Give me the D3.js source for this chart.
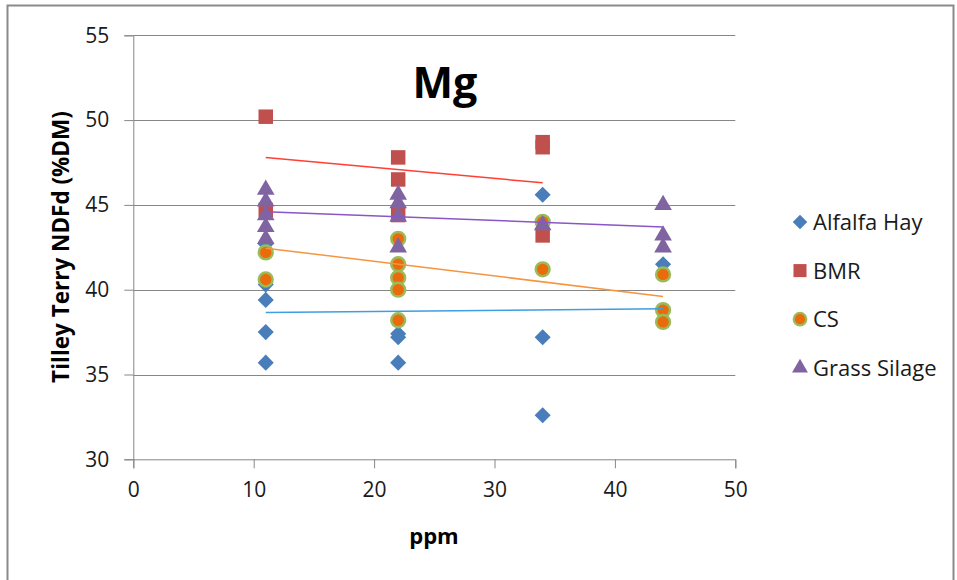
<!DOCTYPE html>
<html><head><meta charset="utf-8">
<script src="https://cdn.jsdelivr.net/npm/d3@7"></script>
<style>html,body{margin:0;padding:0;background:#fff;}svg{display:block;}</style>
</head><body>
<svg id="c" width="957" height="580"></svg>
<script>
// ---- data ----
const seriesNames = ["Alfalfa Hay", "BMR", "CS", "Grass Silage"];
const alfalfaX = [11, 11, 11, 11, 11, 22, 22, 22, 34, 34, 34, 44];
const alfalfaY = [42.7, 40.3, 39.4, 37.5, 35.7, 37.4, 37.2, 35.7, 45.6, 37.2, 32.6, 41.5];
const bmrX = [11, 11, 22, 22, 22, 34, 34, 34];
const bmrY = [50.2, 44.7, 47.8, 46.5, 44.4, 48.7, 48.4, 43.2];
const csX = [11, 11, 22, 22, 22, 22, 22, 34, 34, 44, 44, 44];
const csY = [42.2, 40.6, 43.0, 41.5, 40.7, 40.0, 38.2, 44.0, 41.2, 40.9, 38.8, 38.1];
const grassX = [11, 11, 11, 11, 11, 22, 22, 22, 22, 34, 44, 44, 44];
const grassY = [45.9, 45.2, 44.4, 43.7, 43.0, 45.6, 45.1, 44.3, 42.5, 43.8, 45.0, 43.2, 42.5];
// linear trend lines (start value, end value)
const alfalfaTrend = [38.65, 38.88];
const bmrTrend = [47.8, 46.3];
const csTrend = [42.45, 39.6];
const grassTrend = [44.6, 43.7];
const xTicks = [0, 10, 20, 30, 40, 50];
const yTicks = [30, 35, 40, 45, 50, 55];
const chartTitle = "Mg";
const xTitle = "ppm";
const yTitle = "Tilley Terry NDFd (%DM)";

// ---- drawing ----
const svg = d3.select("#c");
const L = 133.3, R = 735.3, T = 35.3, B = 459.3;
const x = d3.scaleLinear().domain([0, 50]).range([L, R]);
const y = d3.scaleLinear().domain([30, 55]).range([B, T]);
const gridCol = "#878787";
const txtCol = "#1a1a1a";
const font = "'Open Sans', 'Liberation Sans', sans-serif";

// outer frame
svg.append("rect").attr("x", 7.5).attr("y", 5.5).attr("width", 946).attr("height", 640)
  .attr("fill", "#fff").attr("stroke", "#8a8a8a").attr("stroke-width", 2);

// y axis
const yAxis = d3.axisLeft(y).tickValues(yTicks).tickSize(9).tickPadding(15).tickFormat(d3.format("d"));
const gy = svg.append("g").attr("transform", `translate(${L},0)`).call(yAxis);
gy.select(".domain").attr("stroke", gridCol);
gy.selectAll(".tick line").attr("stroke", gridCol);
gy.selectAll(".tick text").attr("font-family", font).attr("font-size", 21).attr("fill", txtCol);
// gridlines
svg.append("g").selectAll("line").data(yTicks.filter(d => d !== 30)).join("line")
  .attr("x1", L).attr("x2", R).attr("y1", d => Math.round(y(d)) + 0.5).attr("y2", d => Math.round(y(d)) + 0.5)
  .attr("stroke", gridCol).attr("stroke-width", 1);

// x axis
const xAxis = d3.axisBottom(x).tickValues(xTicks).tickSize(9).tickPadding(14).tickFormat(d3.format("d"));
const gx = svg.append("g").attr("transform", `translate(0,${B})`).call(xAxis);
gx.select(".domain").attr("stroke", gridCol);
gx.selectAll(".tick line").attr("stroke", gridCol);
gx.selectAll(".tick text").attr("font-family", font).attr("font-size", 21).attr("fill", txtCol);

// marker shapes
const diamond = d3.symbol().type(d3.symbolDiamond2).size(165)();
const square = d3.symbol().type(d3.symbolSquare).size(210)();
const circle = d3.symbol().type(d3.symbolCircle).size(150)();
const triangle = d3.symbol().type(d3.symbolTriangle).size(135)();

const series = [
  {name: seriesNames[0], xs: alfalfaX, ys: alfalfaY, path: diamond, fill: "#4a7ebb", stroke: "none", sw: 0, trend: alfalfaTrend, tcol: "#3d9ee0"},
  {name: seriesNames[1], xs: bmrX, ys: bmrY, path: square, fill: "#c0504d", stroke: "none", sw: 0, trend: bmrTrend, tcol: "#ff3f33"},
  {name: seriesNames[2], xs: csX, ys: csY, path: circle, fill: "#e96b0c", stroke: "#9bbb59", sw: 2.5, trend: csTrend, tcol: "#f7943e"},
  {name: seriesNames[3], xs: grassX, ys: grassY, path: triangle, fill: "#8064a2", stroke: "none", sw: 0, trend: grassTrend, tcol: "#8a55c4"}
];

const ptsG = svg.append("g");
series.forEach(s => {
  const pts = s.xs.map((xv, i) => [xv, s.ys[i]]);
  ptsG.append("g").selectAll("path").data(pts).join("path")
    .attr("d", s.path)
    .attr("transform", d => `translate(${x(d[0])},${y(d[1])})`)
    .attr("fill", s.fill).attr("stroke", s.stroke).attr("stroke-width", s.sw);
});

// trend lines
const lineG = svg.append("g");
series.forEach(s => {
  const xmin = d3.min(s.xs), xmax = d3.max(s.xs);
  lineG.append("line")
    .attr("x1", x(xmin)).attr("y1", y(s.trend[0]))
    .attr("x2", x(xmax)).attr("y2", y(s.trend[1]))
    .attr("stroke", s.tcol).attr("stroke-width", 1.5);
});

// title
svg.append("text").attr("x", 445).attr("y", 98).attr("text-anchor", "middle")
  .attr("font-family", font).attr("font-weight", "bold").attr("font-size", 43).attr("fill", "#000")
  .text(chartTitle);

// axis titles
svg.append("text").attr("x", 434).attr("y", 544).attr("text-anchor", "middle")
  .attr("font-family", font).attr("font-weight", "bold").attr("font-size", 22).attr("fill", "#000")
  .text(xTitle);
svg.append("text").attr("transform", "translate(69,247) rotate(-90)").attr("text-anchor", "middle")
  .attr("font-family", font).attr("font-weight", "bold").attr("font-size", 22.5).attr("fill", "#000")
  .text(yTitle);

// legend
const leg = svg.append("g");
series.forEach((s, i) => {
  const ly = 222 + i * 48.6;
  leg.append("path").attr("d", s.path)
    .attr("transform", `translate(800,${ly}) scale(0.9)`)
    .attr("fill", s.fill).attr("stroke", s.stroke).attr("stroke-width", s.sw);
  leg.append("text").attr("x", 813).attr("y", ly).attr("dy", "0.36em")
    .attr("font-family", font).attr("font-size", 22).attr("fill", txtCol)
    .text(s.name);
});
</script>
</body></html>
